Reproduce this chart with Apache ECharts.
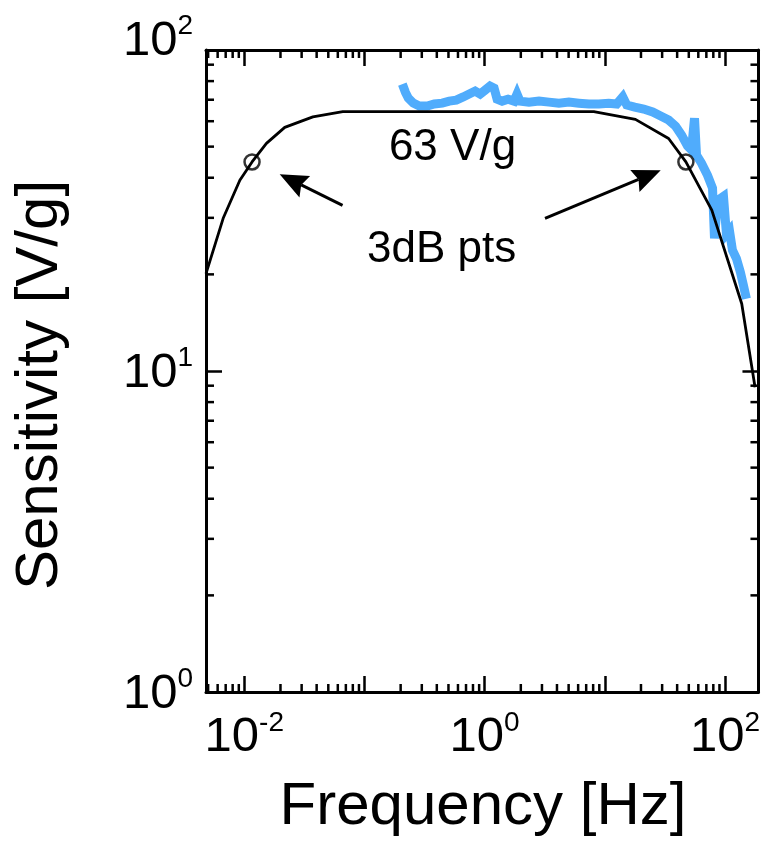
<!DOCTYPE html>
<html><head><meta charset="utf-8">
<script src="https://cdn.jsdelivr.net/npm/echarts@6/dist/echarts.min.js"></script>
<style>html,body{margin:0;padding:0;background:#fff}#c{width:763px;height:841px}</style>
</head><body><div id="c"></div>
<script>
const FONT = '"Liberation Sans", Arial, sans-serif';
const xMin = 0.0048, xMax = 190, yMin = 1, yMax = 100;
const xLabelValues = [0.01, 1, 100];
const yLabelValues = [1, 10, 100];
const xMinorTicks = [0.005,0.006,0.007,0.008,0.009,0.02,0.03,0.04,0.05,0.06,0.07,0.08,0.09,
  0.2,0.3,0.4,0.5,0.6,0.7,0.8,0.9,2,3,4,5,6,7,8,9,20,30,40,50,60,70,80,90];
const yMinorTicks = [2,3,4,5,6,7,8,9,20,30,40,50,60,70,80,90];

// model response (black)
const modelFreq = [0.0048,0.00667,0.00918,0.0116,0.01528,0.0217,0.0372,0.066,8.1,17.98,33.96,47.3,77.7,137.9,178];
const modelSens = [20.1,29.9,39.3,44.8,51.2,57.4,61.9,64.3,64.3,60.8,53.0,44.8,31.7,16.2,8.9];

// measured response (blue)
const measFreq = [0.2067,0.2189,0.2318,0.255,0.286,0.3333,0.381,0.444,0.5075,0.58,0.6634,0.7436,0.834,0.9177,1.0095,1.11,1.199,1.27,1.397,1.567,1.757,1.861,1.970,2.34,2.834,3.43,4.153,5.025,6.084,7.366,8.916,10.79,12.58,14.11,15.23,17.74,21.07,25.02,29.16,33.97,38.83,43.55,48.85,52.7,55.8,58.0,63.8,71.6,78.8,81.85,86.7,97.2,102.9,109.0,115.4,124.6,134.5,142.4,150.8];
const measSens = [78.3,73.9,70.8,68.3,66.9,66.9,67.9,68.3,69.3,69.8,71.4,72.9,74.5,72.9,75.0,77.2,76.1,70.3,69.3,70.3,69.3,72.9,69.3,68.8,69.3,68.8,68.3,68.8,68.3,67.9,67.9,68.3,67.9,71.4,67.4,66.4,65.5,64.1,62.3,60.5,57.9,54.3,50.2,48.8,61.3,47.0,44.4,40.7,37.1,25.9,34.0,35.0,26.7,27.4,23.8,22.4,20.3,18.5,16.8];

// 3dB points and annotation arrows [tailF, tailS, tipF, tipS]
const cornerFreq = [0.0116, 47.3];
const cornerSens = [44.8, 44.8];
const arrows = [[0.0657,32.8,0.0197,41.0],[3.18,29.9,29.2,42.2]];

const chart = echarts.init(document.getElementById('c'), null, {renderer:'canvas'});

function isPow10(v){ const l = Math.log10(v); return Math.abs(l - Math.round(l)) < 1e-6; }
function fmt(list){
  return function(v){
    if (!isPow10(v)) return '';
    const e = Math.round(Math.log10(v));
    if (!list.some(t => Math.abs(Math.log10(t) - e) < 1e-6)) return '';
    return '{b|10}{s|' + e + '}';
  };
}
const yFmt = function(v){
  const s = fmt(yLabelValues)(v);
  if (s && Math.round(Math.log10(v)) === 2) return s + '\n{e| }';
  return s;
};
const rich = {
  b: {fontSize: 49, fontFamily: FONT, color: '#000', lineHeight: 53, verticalAlign: 'bottom'},
  s: {fontSize: 28, fontFamily: FONT, color: '#000', lineHeight: 28, verticalAlign: 'top'},
  e: {fontSize: 10, lineHeight: 22}
};
const axisLineStyle = {color: '#000', width: 3};
const tick = {show: true, inside: true, length: 16, lineStyle: {color: '#000', width: 2.5}};

function minorX(params, api){
  const cs = params.coordSys;
  const x = api.coord([api.value(0), 10])[0];
  const st = {stroke: '#000', lineWidth: 2.5};
  return {type: 'group', children: [
    {type: 'line', shape: {x1: x, y1: cs.y + cs.height, x2: x, y2: cs.y + cs.height - 8}, style: st},
    {type: 'line', shape: {x1: x, y1: cs.y, x2: x, y2: cs.y + 8}, style: st}
  ]};
}
function minorY(params, api){
  const cs = params.coordSys;
  const y = api.coord([1, api.value(1)])[1];
  const st = {stroke: '#000', lineWidth: 2.5};
  return {type: 'group', children: [
    {type: 'line', shape: {x1: cs.x, y1: y, x2: cs.x + 8, y2: y}, style: st},
    {type: 'line', shape: {x1: cs.x + cs.width, y1: y, x2: cs.x + cs.width - 8, y2: y}, style: st}
  ]};
}
function arrowItem(params, api){
  const p0 = api.coord([api.value(0), api.value(1)]);
  const p1 = api.coord([api.value(2), api.value(3)]);
  const dx = p1[0]-p0[0], dy = p1[1]-p0[1];
  const L = Math.sqrt(dx*dx+dy*dy), ux = dx/L, uy = dy/L;
  const hl = 28, hw = 12;
  const bx = p1[0]-ux*hl, by = p1[1]-uy*hl;
  return {type: 'group', children: [
    {type: 'line', shape: {x1: p0[0], y1: p0[1], x2: bx + ux*4, y2: by + uy*4}, style: {stroke: '#000', lineWidth: 3}},
    {type: 'polygon', shape: {points: [[p1[0],p1[1]],[bx - uy*hw, by + ux*hw],[bx + ux*4, by + uy*4],[bx + uy*hw, by - ux*hw]]}, style: {fill: '#000'}}
  ]};
}

const option = {
  animation: false,
  backgroundColor: '#fff',
  grid: {left: 206, right: 3, top: 50, bottom: 149, containLabel: false},
  xAxis: [
    {type: 'log', logBase: 10, min: xMin, max: xMax, position: 'bottom',
     axisLine: {show: true, lineStyle: axisLineStyle}, axisTick: tick, splitLine: {show: false},
     axisLabel: {formatter: fmt(xLabelValues), rich: rich, margin: 17, color: '#000'}},
    {type: 'log', logBase: 10, min: xMin, max: xMax, position: 'top',
     axisLine: {show: true, lineStyle: axisLineStyle}, axisTick: tick, splitLine: {show: false},
     axisLabel: {show: false}}
  ],
  yAxis: [
    {type: 'log', logBase: 10, min: yMin, max: yMax, position: 'left',
     axisLine: {show: true, lineStyle: axisLineStyle}, axisTick: tick, splitLine: {show: false},
     axisLabel: {formatter: yFmt, rich: rich, margin: 13, color: '#000'}},
    {type: 'log', logBase: 10, min: yMin, max: yMax, position: 'right',
     axisLine: {show: true, lineStyle: axisLineStyle}, axisTick: tick, splitLine: {show: false},
     axisLabel: {show: false}}
  ],
  series: [
    {type: 'custom', renderItem: minorX, data: xMinorTicks.map(v => [v, 10]), encode: {x: 0, y: 1}, silent: true, clip: false, z: 1},
    {type: 'custom', renderItem: minorY, data: yMinorTicks.map(v => [1, v]), encode: {x: 0, y: 1}, silent: true, clip: false, z: 1},
    {type: 'line', name: 'measured', data: measFreq.map((f,i) => [f, measSens[i]]), showSymbol: false, symbol: 'none',
     lineStyle: {color: '#50acfc', width: 9, join: 'miter'}, z: 2},
    {type: 'line', name: 'model', data: modelFreq.map((f,i) => [f, modelSens[i]]), showSymbol: false, symbol: 'none',
     lineStyle: {color: '#000', width: 2.8}, z: 3},
    {type: 'scatter', data: cornerFreq.map((f,i) => [f, cornerSens[i]]), symbol: 'circle', symbolSize: 15,
     itemStyle: {color: 'rgba(0,0,0,0)', borderColor: '#000', borderWidth: 2.5}, z: 4},
    {type: 'custom', renderItem: arrowItem, data: arrows, encode: {x: [0,2], y: [1,3]}, clip: false, z: 4}
  ],
  graphic: [
    {type: 'text', x: 452.5, y: 147.5, style: {text: '63 V/g', font: '44px ' + FONT, fill: '#000', align: 'center', verticalAlign: 'middle'}},
    {type: 'text', x: 441.7, y: 250, style: {text: '3dB pts', font: '44px ' + FONT, fill: '#000', align: 'center', verticalAlign: 'middle'}},
    {type: 'text', x: 483, y: 807.5, style: {text: 'Frequency [Hz]', font: '60px ' + FONT, fill: '#000', align: 'center', verticalAlign: 'middle'}},
    {type: 'text', x: 40, y: 385, rotation: Math.PI/2, style: {text: 'Sensitivity [V/g]', font: '60px ' + FONT, fill: '#000', align: 'center', verticalAlign: 'middle'}}
  ]
};
chart.setOption(option);
</script></body></html>
